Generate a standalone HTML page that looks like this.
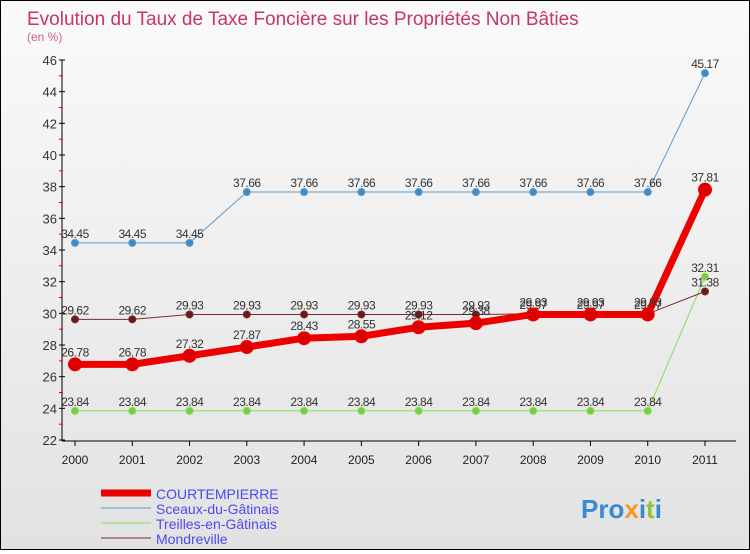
<!DOCTYPE html>
<html><head><meta charset="utf-8"><style>
body{margin:0;width:750px;height:550px;overflow:hidden;font-family:"Liberation Sans",sans-serif}
#wrap{position:relative;width:748px;height:548px;border:1px solid #000;background:linear-gradient(#fafafa,#e2e2e2)}
</style></head><body>
<div id="wrap">
<svg id="c" width="748" height="548"></svg>
</div>
<script>
const years=['2000','2001','2002','2003','2004','2005','2006','2007','2008','2009','2010','2011'];
const yTicks=[22,24,26,28,30,32,34,36,38,40,42,44,46];
const courtempierre=[26.78,26.78,27.32,27.87,28.43,28.55,29.12,29.38,29.93,29.93,29.93,37.81];
const sceaux=[34.45,34.45,34.45,37.66,37.66,37.66,37.66,37.66,37.66,37.66,37.66,45.17];
const treilles=[23.84,23.84,23.84,23.84,23.84,23.84,23.84,23.84,23.84,23.84,23.84,32.31];
const mondreville=[29.62,29.62,29.93,29.93,29.93,29.93,29.93,29.93,29.97,29.97,29.97,31.38];
const seriesNames=['COURTEMPIERRE','Sceaux-du-Gâtinais','Treilles-en-Gâtinais','Mondreville'];
const NS='http://www.w3.org/2000/svg';
const svg=document.getElementById('c');
const X=i=>74+i*(630/11);
const Y=v=>439-(v-22)*(380/24);
function mk(t,a,p){const e=document.createElementNS(NS,t);for(const k in a)e.setAttribute(k,a[k]);(p||svg).appendChild(e);return e;}
let t=mk('text',{x:26,y:24,fill:'#c8346a','font-size':19});t.textContent='Evolution du Taux de Taxe Foncière sur les Propriétés Non Bâties';


t=mk('text',{x:26,y:40,fill:'#d0608a','font-size':12});t.textContent='(en %)';


// axes
let ax=mk('line',{x1:61,y1:59,x2:61,y2:440,stroke:'#000'});


ax=mk('line',{x1:61,y1:440,x2:735,y2:440,stroke:'#000'});


yTicks.forEach((v,i)=>{
 mk('line',{x1:58,x2:64,y1:Y(v),y2:Y(v),stroke:'#000'});
 if(i<yTicks.length-1)mk('line',{x1:58,x2:62,y1:Y(v+1),y2:Y(v+1),stroke:'#e00'});
 const l=mk('text',{x:56,y:Y(v)+5,'text-anchor':'end','font-size':13,fill:'#333'});l.textContent=v;
 
 
});
years.forEach((y,i)=>{
 mk('line',{x1:X(i),x2:X(i),y1:440,y2:445,stroke:'#000'});
 const l=mk('text',{x:X(i),y:463,'text-anchor':'middle','font-size':12,fill:'#222'});l.textContent=y;
 
 
});
function series(data,color,w,r,dot,name,lblOff){
 const g=mk('g',{});
 
 
 mk('polyline',{points:data.map((v,i)=>X(i)+','+Y(v)).join(' '),fill:'none',stroke:color,'stroke-width':w},g);
 data.forEach((v,i)=>{
  const c=mk('circle',{cx:X(i),cy:Y(v),r:r,fill:dot,stroke:color,'stroke-width':1},g);
  
  
  const l=mk('text',{x:X(i),y:Y(v)+lblOff,'text-anchor':'middle','font-size':12,fill:'#333','letter-spacing':'-0.5'},g);
  l.textContent=v.toFixed(2).replace(/0$/,'').replace(/\.$/,'');
  l.textContent=String(v);
  
  
 });
}
series(treilles,'#88dd55',1,3.5,'#77cc44','series-treilles',-5);
series(sceaux,'#5a99cc',1,3.5,'#3b8ccc','series-sceaux',-5);
series(mondreville,'#7a2a2a',1,3.5,'#6a1a1a','series-mondreville',-5);
series(courtempierre,'#ee0000',7,6.5,'#dd0000','series-courtempierre',-8);
// legend
const leg=[['#ee0000',7],['#5a99cc',1],['#88dd55',1],['#7a2a2a',1]];
leg.forEach((s,i)=>{
 const y=492+i*15;
 const g=mk('g',{});
 
 
 mk('line',{x1:100,x2:150,y1:y,y2:y,stroke:s[0],'stroke-width':s[1]},g);
 const l=mk('text',{x:155,y:y+6,'font-size':14,fill:'#4a4af0'},g);l.textContent=seriesNames[i];
});
const lg=mk('text',{x:580,y:517,'font-size':26,'font-weight':'bold',fill:'#3a8ad0'});
lg.innerHTML='Pro<tspan fill="#f39a1e">x</tspan>i<tspan fill="#8cc43c">t</tspan>i';


</script>
</body></html>
